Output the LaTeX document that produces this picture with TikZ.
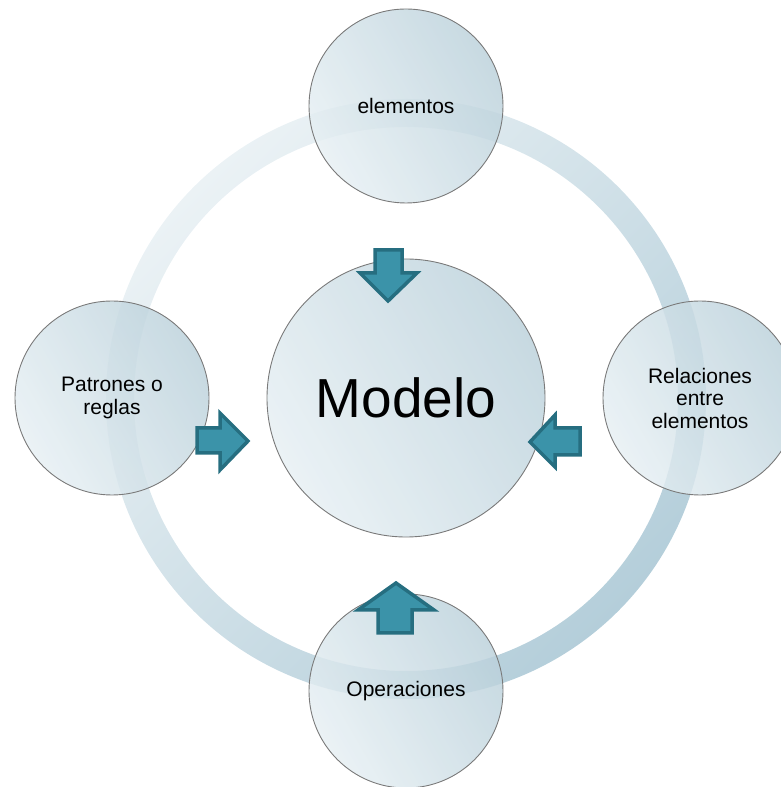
\documentclass[tikz,border=0pt]{standalone}
\usepackage{fontspec}
\setmainfont{Liberation Sans}
\definecolor{ringlight}{HTML}{EBF2F5}
\definecolor{ringdark}{HTML}{B4CEDA}
\definecolor{bublight}{HTML}{E6EFF3}
\definecolor{bubdark}{HTML}{BBD1DB}
\definecolor{bubline}{HTML}{7A7A7A}
\definecolor{arrowfill}{HTML}{3B93A9}
\definecolor{arrowline}{HTML}{266E80}
\tikzset{
  bubble/.style={circle, draw=bubline, line width=0.9pt,
    left color=bublight, right color=bubdark, shading angle=120,
    fill opacity=0.82, text opacity=1, inner sep=0pt, align=center,
    font=\fontsize{21}{22.5}\selectfont},
  bigbubble/.style={bubble, minimum size=278pt, font=\fontsize{55}{60}\selectfont},
  smallbubble/.style={bubble, minimum size=194pt},
  blockarrow/.style={fill=arrowfill, draw=arrowline, line width=3.5pt, line join=miter}
}
\begin{document}
\begin{tikzpicture}[x=1pt, y=1pt]
\useasboundingbox (0,0) rectangle (780,787);

% outer cycle ring
\coordinate (ringc) at (406,388);
\shade[even odd rule, left color=ringlight, right color=ringdark, shading angle=45]
  (ringc) circle (300) (ringc) circle (272);

% satellite bubbles
\node[smallbubble] (elem) at (406,681) {elementos};
\node[smallbubble] (rel) at (700,389) {Relaciones\\entre\\elementos};
\node[smallbubble] (oper) at (406,96) {Operaciones};
\node[smallbubble] (patr) at (112,389) {Patrones o\\reglas};

% central bubble
\node[bigbubble] (modelo) at (406,389) {Modelo};

% block arrows pointing to the central bubble
\draw[blockarrow] (375,537) -- (402,537) -- (402,514) -- (417,514) -- (388,486)
  -- (360,514) -- (375,514) -- cycle;
\draw[blockarrow] (197,359) -- (220,359) -- (220,374) -- (248,346) -- (220,317)
  -- (220,334) -- (197,334) -- cycle;
\draw[blockarrow] (580,359) -- (555,359) -- (555,372) -- (530,345) -- (555,320)
  -- (555,332) -- (580,332) -- cycle;
\draw[blockarrow] (378,154) -- (412,154) -- (412,177) -- (434,177) -- (396,204)
  -- (358,177) -- (378,177) -- cycle;
\end{tikzpicture}
\end{document}
